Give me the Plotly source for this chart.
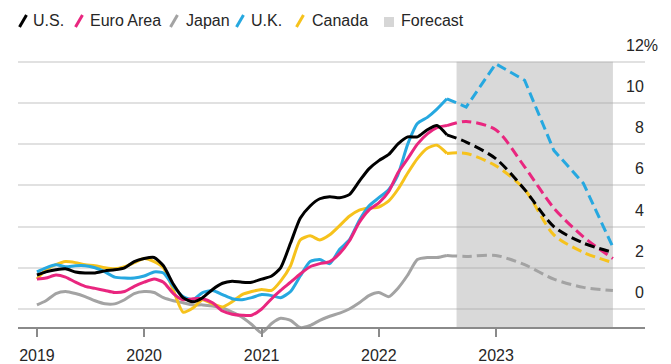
import pandas as pd
import plotly.graph_objects as go

# Monthly year-over-year CPI, Feb 2019 - Aug 2022 (%)
MONTHS = pd.date_range("2019-02-01", "2022-08-01", freq="MS")

US = [1.65, 1.8, 1.9, 1.95, 1.8, 1.75, 1.75, 1.85, 1.9, 2.0, 2.3,
      2.45, 2.5, 2.1, 1.2, 0.55, 0.35, 0.55, 0.95, 1.25, 1.35, 1.3, 1.3,
      1.45, 1.6, 2.0, 3.2, 4.4, 5.0, 5.35, 5.45, 5.4, 5.55, 6.2, 6.8,
      7.2, 7.5, 8.0, 8.35, 8.35, 8.7, 8.9, 8.45]
EURO = [1.45, 1.5, 1.65, 1.55, 1.3, 1.1, 1.0, 0.9, 0.8, 0.85, 1.1,
        1.3, 1.45, 1.3, 0.75, 0.45, 0.5, 0.5, 0.3, -0.1, -0.25, -0.3, -0.3,
        0.0, 0.5, 0.9, 1.3, 1.7, 2.05, 2.2, 2.3, 2.7, 3.3, 4.2, 4.8,
        5.15, 5.7, 6.6, 7.3, 8.0, 8.5, 8.8, 8.9]
JAPAN = [0.2, 0.4, 0.75, 0.85, 0.75, 0.6, 0.4, 0.25, 0.25, 0.45, 0.75,
         0.85, 0.8, 0.55, 0.4, 0.3, 0.2, 0.2, 0.15, 0.05, -0.15, -0.4, -0.75,
         -1.15, -0.7, -0.45, -0.55, -0.9, -0.8, -0.55, -0.35, -0.2, 0.0, 0.3, 0.65,
         0.8, 0.6, 1.0, 1.65, 2.4, 2.5, 2.5, 2.6]
UK = [1.8, 2.0, 2.15, 2.05, 2.1, 2.1, 2.0, 1.8, 1.55, 1.5, 1.5,
      1.6, 1.8, 1.75, 1.1, 0.6, 0.45, 0.8, 0.9, 0.7, 0.5, 0.45, 0.55,
      0.7, 0.65, 0.55, 0.85, 1.6, 2.3, 2.4, 2.2, 2.9, 3.35, 4.3, 5.0,
      5.4, 5.8, 6.5, 8.0, 9.0, 9.3, 9.7, 10.2]
CANADA = [1.45, 1.9, 2.15, 2.3, 2.25, 2.15, 2.1, 2.0, 1.95, 2.05, 2.25,
          2.45, 2.3, 2.0, 0.9, -0.15, 0.05, 0.45, 0.25, 0.1, 0.35, 0.7, 0.85,
          0.95, 0.9, 1.35, 2.1, 3.35, 3.55, 3.35, 3.6, 4.05, 4.5, 4.8, 4.9,
          4.95, 5.25, 5.8, 6.6, 7.3, 7.8, 7.95, 7.55]

# Quarterly forecasts, Q3 2022 - Q4 2023 (%)
FC_DATES = ["2022-09-30", "2022-12-31", "2023-03-31",
            "2023-06-30", "2023-09-30", "2023-12-31"]
US_FC = [8.1, 7.3, 5.8, 4.0, 3.2, 2.75]
EURO_FC = [9.1, 8.7, 6.9, 4.9, 3.5, 2.45]
JAPAN_FC = [2.55, 2.6, 2.15, 1.45, 1.05, 0.9]
UK_FC = [9.8, 11.9, 11.1, 7.7, 6.1, 3.0]
CANADA_FC = [7.55, 6.95, 5.8, 3.6, 2.75, 2.25]

FORECAST_SPAN = ["2022-08-31", "2023-12-31"]

YEAR_TICKS = ["2019-02-01", "2020-01-01", "2021-01-01", "2022-01-01", "2023-01-01"]
YEAR_LABELS = ["2019", "2020", "2021", "2022", "2023"]
Y_TICKS = [0, 2, 4, 6, 8, 10, 12]

SERIES = [
    # name, actual, forecast, colour, straight forecast segments
    ("Japan", JAPAN, JAPAN_FC, "#a3a3a3", False),
    ("Canada", CANADA, CANADA_FC, "#f6c21c", False),
    ("U.K.", UK, UK_FC, "#26a8e0", True),
    ("Euro Area", EURO, EURO_FC, "#e9267f", False),
    ("U.S.", US, US_FC, "#000000", False),
]
LEGEND_ORDER = ["U.S.", "Euro Area", "Japan", "U.K.", "Canada"]
COLORS = {s[0]: s[3] for s in SERIES}

FONT = "Liberation Sans, Arial, sans-serif"
TEXT = "#262626"

W, H = 671, 364
L, R, T, B = 18, 645, 58, 336
Y_RANGE = [-1.31, 12.18]
AXIS_FLOOR = -0.92


def paper_x(px):
    return (px - L) / (R - L)


def paper_y(py):
    return (B - py) / (B - T)


fig = go.Figure()

for name, actual, fc, color, straight in SERIES:
    fig.add_trace(go.Scatter(
        x=list(MONTHS), y=actual, mode="lines", name=name,
        line=dict(color=color, width=3, shape="spline", smoothing=0.6),
        showlegend=False, hoverinfo="skip"))
    fig.add_trace(go.Scatter(
        x=[MONTHS[-1]] + [pd.Timestamp(d) for d in FC_DATES],
        y=[actual[-1]] + fc, mode="lines", name=name + " forecast",
        line=dict(color=color, width=3, dash="10px,5px",
                  shape="linear" if straight else "spline", smoothing=0.8),
        showlegend=False, hoverinfo="skip"))

shapes = [
    # forecast period
    dict(type="rect", xref="x", yref="y", x0=FORECAST_SPAN[0], x1=FORECAST_SPAN[1],
         y0=AXIS_FLOOR, y1=Y_TICKS[-1], fillcolor="rgba(165,165,165,0.42)",
         line=dict(width=0), layer="between"),
    # zero line
    dict(type="line", xref="paper", yref="y", x0=0, x1=paper_x(630), y0=0, y1=0,
         line=dict(color="#8d8d8d", width=2), layer="between"),
]

annotations = []

# Right-hand value labels sitting above their gridlines
for v in Y_TICKS:
    label = f"{v}%" if v == Y_TICKS[-1] else f"{v}"
    annotations.append(dict(
        xref="paper", yref="y", x=1, y=v, text=label, showarrow=False,
        xanchor="right", yanchor="bottom", xshift=(15 if v == Y_TICKS[-1] else 1),
        yshift=6, font=dict(family=FONT, size=16, color=TEXT)))

# Legend row: slanted swatches and labels
legend_slash_x = {"U.S.": 23, "Euro Area": 79, "Japan": 174, "U.K.": 240, "Canada": 300}
legend_text_x = {"U.S.": 31, "Euro Area": 88, "Japan": 184, "U.K.": 249, "Canada": 310}
for name in LEGEND_ORDER:
    cx = legend_slash_x[name]
    shapes.append(dict(type="line", xref="paper", yref="paper",
                       x0=paper_x(cx - 3.5), x1=paper_x(cx + 3.5),
                       y0=paper_y(27), y1=paper_y(15),
                       line=dict(color=COLORS[name], width=3)))
    annotations.append(dict(xref="paper", yref="paper", x=paper_x(legend_text_x[name]),
                            y=paper_y(21), text=name, showarrow=False,
                            xanchor="left", yanchor="middle",
                            font=dict(family=FONT, size=16, color=TEXT)))
shapes.append(dict(type="rect", xref="paper", yref="paper",
                   x0=paper_x(384), x1=paper_x(394), y0=paper_y(27), y1=paper_y(17),
                   fillcolor="#d6d6d6", line=dict(width=0)))
annotations.append(dict(xref="paper", yref="paper", x=paper_x(399), y=paper_y(21),
                        text="Forecast", showarrow=False, xanchor="left",
                        yanchor="middle", font=dict(family=FONT, size=16, color=TEXT)))

fig.update_layout(
    width=W, height=H,
    margin=dict(l=L, r=W - R, t=T, b=H - B, pad=0, autoexpand=False),
    paper_bgcolor="white", plot_bgcolor="white",
    showlegend=False,
    shapes=shapes, annotations=annotations,
    xaxis=dict(
        type="date", range=["2018-12-04", "2024-04-09"],
        tickvals=YEAR_TICKS, ticktext=YEAR_LABELS,
        showgrid=False, zeroline=False,
        showline=True, linecolor="#8a8a8a", linewidth=2,
        ticks="outside", ticklen=8, tickwidth=1.5, tickcolor="#8a8a8a",
        anchor="free", position=(AXIS_FLOOR - Y_RANGE[0]) / (Y_RANGE[1] - Y_RANGE[0]),
        tickfont=dict(family=FONT, size=16, color=TEXT),
        ticklabelstandoff=5, automargin=False,
    ),
    yaxis=dict(
        range=Y_RANGE, tickvals=Y_TICKS, showticklabels=False,
        showgrid=True, gridcolor="#e1e1e1", gridwidth=2,
        zeroline=False, showline=False, ticks="", automargin=False,
    ),
)

fig.write_html("out.html")
